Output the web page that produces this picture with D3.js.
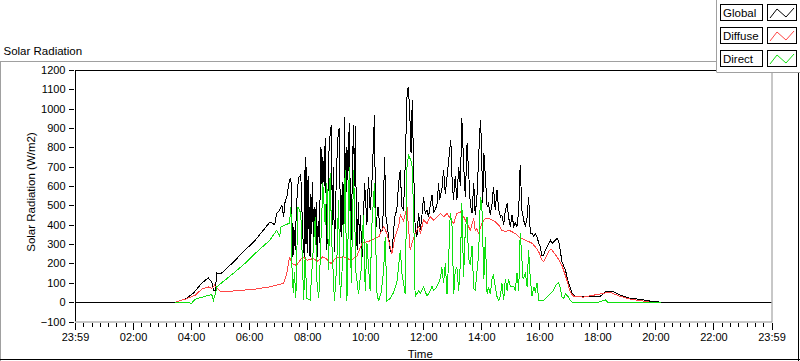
<!DOCTYPE html>
<html><head><meta charset="utf-8">
<script src="https://cdn.jsdelivr.net/npm/d3@7"></script>
<style>
html,body{margin:0;padding:0;background:#fff;}
svg{display:block;font-family:"Liberation Sans",Arial,sans-serif;}
</style></head>
<body><svg id="c" width="800" height="361"></svg>
<script>
// ---- data (time in hours since 23:59, values in W/m2) ----
const seriesNames = ["Global", "Diffuse", "Direct"];
const xTickLabels = ["23:59","02:00","04:00","06:00","08:00","10:00","12:00","14:00","16:00","18:00","20:00","22:00","23:59"];
const yTickValues = [-100,0,100,200,300,400,500,600,700,800,900,1000,1100,1200];

const globalHours = [0,3.40,3.45,3.79,4.07,4.37,4.59,4.71,4.77,4.83,4.89,5.00,5.17,5.52,5.86,6.18,6.49,6.72,6.88,6.95,7.03,7.13,7.19,7.24,7.30,7.39,7.44,7.47,7.51,7.54,7.59,7.63,7.70,7.78,7.85,7.90,7.93,7.96,7.99,8.02,8.05,8.08,8.10,8.13,8.16,8.19,8.22,8.25,8.28,8.31,8.34,8.38,8.42,8.47,8.50,8.52,8.54,8.57,8.59,8.62,8.68,8.74,8.78,8.83,8.87,8.90,8.94,8.98,9.02,9.06,9.10,9.13,9.17,9.21,9.25,9.29,9.31,9.33,9.37,9.40,9.45,9.48,9.52,9.56,9.60,9.63,9.66,9.69,9.72,9.77,9.80,9.83,9.86,9.89,9.98,10.06,10.11,10.17,10.23,10.32,10.36,10.44,10.52,10.60,10.67,10.71,10.78,10.86,10.92,10.98,11.03,11.09,11.15,11.21,11.26,11.32,11.38,11.44,11.48,11.53,11.58,11.62,11.67,11.72,11.78,11.84,11.90,11.95,12.01,12.07,12.13,12.18,12.30,12.36,12.47,12.53,12.56,12.64,12.70,12.76,12.82,12.91,12.95,12.99,13.04,13.10,13.16,13.22,13.28,13.33,13.39,13.45,13.51,13.56,13.62,13.68,13.74,13.79,13.85,13.91,13.97,14.00,14.05,14.09,14.14,14.20,14.25,14.31,14.37,14.42,14.48,14.54,14.60,14.66,14.71,14.77,14.83,14.89,14.94,15.00,15.06,15.12,15.17,15.23,15.29,15.34,15.40,15.46,15.52,15.58,15.63,15.69,15.75,15.81,15.86,15.92,15.98,16.03,16.09,16.15,16.21,16.32,16.38,16.44,16.49,16.55,16.61,16.67,16.72,16.78,16.90,17.01,17.13,17.24,17.53,18.10,18.28,18.45,18.62,18.79,19.14,19.48,19.83,20.17,24];
const globalValues = [0,0,0,15,45,98,126,105,62,60,150,145,165,217,269,315,372,415,400,460,470,502,441,520,545,631,641,450,234,390,270,500,641,660,338,234,752,300,700,252,650,300,234,560,350,620,252,493,300,520,234,420,304,804,760,500,752,640,600,848,269,752,850,916,400,700,260,500,718,850,900,600,338,620,270,959,700,500,800,630,924,600,321,700,916,600,910,500,270,520,300,450,350,234,614,400,648,476,614,968,372,493,365,372,752,450,372,270,252,372,450,476,614,683,493,476,718,1062,1114,1002,769,1045,683,390,338,460,372,440,545,460,476,440,554,460,500,614,530,580,683,560,650,786,838,650,530,650,530,700,600,950,718,545,821,683,510,460,614,450,545,752,941,840,510,770,648,493,510,450,510,597,476,580,476,440,450,400,476,510,440,390,450,390,410,390,476,709,476,424,390,440,545,355,355,338,355,338,304,286,243,243,269,304,320,304,312,320,330,312,269,208,165,97,45,31,28,30,53,57,50,36,19,15,5,0,0];

const diffuseHours = [3.45,3.79,4.14,4.37,4.59,4.71,4.81,4.89,5.00,5.40,6.18,6.72,7.19,7.30,7.39,7.47,7.63,7.85,8.01,8.22,8.34,8.54,8.66,8.74,8.83,9.00,9.25,9.52,9.72,9.89,10.23,10.47,10.64,10.75,10.92,11.03,11.15,11.21,11.32,11.44,11.49,11.55,11.64,11.72,11.84,11.90,12.01,12.13,12.24,12.36,12.47,12.59,12.70,12.82,12.93,13.05,13.16,13.28,13.39,13.51,13.62,13.74,13.79,13.85,13.91,14.02,14.14,14.25,14.37,14.48,14.60,14.71,14.83,14.94,15.06,15.17,15.29,15.40,15.52,15.63,15.75,15.86,15.98,16.09,16.15,16.21,16.32,16.38,16.44,16.61,16.78,16.95,17.07,17.18,17.53,18.28,18.45,18.79,19.14,19.83,20.20];
const diffuseValues = [0,15,36,67,79,72,88,72,57,57,67,79,98,150,234,200,190,234,217,226,210,234,226,210,200,230,234,217,240,304,320,338,390,355,252,338,390,450,420,493,390,269,320,355,390,355,424,407,441,424,441,458,441,458,433,407,458,467,441,407,372,433,372,380,355,407,433,433,424,415,398,372,364,372,364,355,338,330,320,313,304,287,260,217,210,226,260,272,269,234,190,114,50,30,26,48,50,30,15,0,0];

const directHours = [3.45,3.79,4.02,4.14,4.48,4.71,4.77,4.83,4.89,5.17,5.52,5.86,6.18,6.72,6.95,7.05,7.10,7.39,7.44,7.47,7.52,7.56,7.61,7.68,7.78,7.88,7.93,7.99,8.10,8.16,8.28,8.34,8.40,8.47,8.54,8.62,8.68,8.74,8.79,8.85,8.94,9.02,9.08,9.14,9.25,9.31,9.37,9.45,9.52,9.60,9.68,9.77,9.86,9.94,10.00,10.06,10.17,10.23,10.32,10.40,10.46,10.55,10.63,10.69,10.75,10.86,10.98,11.09,11.21,11.26,11.32,11.38,11.44,11.49,11.55,11.61,11.67,11.72,11.84,11.90,12.01,12.13,12.24,12.30,12.36,12.47,12.59,12.64,12.70,12.76,12.82,12.87,12.93,12.99,13.05,13.10,13.16,13.22,13.28,13.33,13.39,13.45,13.51,13.56,13.62,13.68,13.74,13.79,13.85,13.91,13.97,14.02,14.09,14.14,14.20,14.25,14.31,14.37,14.42,14.48,14.54,14.60,14.66,14.71,14.77,14.83,14.89,14.94,15.00,15.12,15.17,15.23,15.29,15.34,15.38,15.44,15.52,15.58,15.63,15.69,15.75,15.81,15.86,15.92,15.98,16.03,16.15,16.26,16.38,16.49,16.55,16.61,16.67,16.72,16.78,16.84,16.90,16.95,17.01,17.07,17.13,17.50,18.00,18.28,18.35,19.00,19.83,20.20];
const directValues = [0,-3,-5,15,30,40,10,40,80,114,157,201,248,321,372,340,390,408,493,200,46,155,20,493,460,10,234,20,10,155,440,100,20,300,614,400,614,165,665,304,5,200,528,20,270,683,5,700,100,683,155,40,170,450,60,304,60,400,614,50,5,50,155,338,5,20,50,100,270,155,100,40,700,760,740,718,460,27,60,45,80,30,60,81,60,80,122,180,100,200,40,200,460,400,40,160,180,60,200,510,130,380,441,230,190,290,70,62,155,252,545,500,120,338,40,80,40,120,140,80,30,10,30,100,10,120,60,120,80,80,60,150,60,355,270,120,150,80,270,120,30,80,50,100,10,10,10,25,45,60,84,93,100,75,27,20,45,35,27,9,0,0,-3,12,0,0,-3,-3];

const seriesColors = ["#000000", "#ff4646", "#10e010"];

// ---- layout ----
const svg = d3.select("#c");
const W = 800, H = 361;
const plot = {left: 75, right: 771.5, top: 70, bottom: 321.5};

const x = d3.scaleLinear().domain([0, 24]).range([plot.left, plot.right]);
const y = d3.scaleLinear().domain([-100, 1200]).range([plot.bottom, plot.top]);

// outer panel (3D frame)
svg.append("rect").attr("x",0).attr("y",0).attr("width",W).attr("height",H).attr("fill","#fff");
svg.append("line").attr("x1",0.5).attr("x2",0.5).attr("y1",61.5).attr("y2",H).attr("stroke","#a0a0a0");
svg.append("line").attr("x1",0).attr("x2",W).attr("y1",61.5).attr("y2",61.5).attr("stroke","#a0a0a0");
svg.append("line").attr("x1",0).attr("x2",W).attr("y1",359.5).attr("y2",359.5).attr("stroke","#000");
svg.append("line").attr("x1",798.5).attr("x2",798.5).attr("y1",61).attr("y2",H).attr("stroke","#000");

// title
svg.append("text").attr("x",3.5).attr("y",55).attr("font-size","11.5px").attr("fill","#000").text("Solar Radiation");

// plot background
svg.append("rect").attr("x",plot.left).attr("y",plot.top).attr("width",plot.right-plot.left).attr("height",plot.bottom-plot.top).attr("fill","#fff");

// clip
svg.append("defs").append("clipPath").attr("id","clip").append("rect")
  .attr("x",plot.left).attr("y",plot.top).attr("width",plot.right-plot.left).attr("height",plot.bottom-plot.top);

// series
const allSeries = [
  {hours: globalHours, values: globalValues},
  {hours: diffuseHours, values: diffuseValues},
  {hours: directHours, values: directValues}
];
const line = d3.line().x(d => x(d[0])).y(d => y(d[1]));
const gData = svg.append("g").attr("clip-path","url(#clip)");
allSeries.forEach((s, i) => {
  const pts = s.hours.map((h, k) => [h, s.values[k]]);
  gData.append("path").datum(pts).attr("d", line)
    .attr("fill","none").attr("stroke",seriesColors[i]).attr("stroke-width",1)
    .attr("stroke-linejoin","miter").attr("shape-rendering","crispEdges");
});

// frame lines
svg.append("line").attr("x1",plot.left).attr("x2",plot.right).attr("y1",plot.top+0.5).attr("y2",plot.top+0.5).attr("stroke","#000");
svg.append("line").attr("x1",plot.left+0.5).attr("x2",plot.left+0.5).attr("y1",plot.top).attr("y2",plot.bottom).attr("stroke","#000");
svg.append("line").attr("x1",plot.left).attr("x2",plot.right+0.5).attr("y1",plot.bottom+0.5).attr("y2",plot.bottom+0.5).attr("stroke","#909090");
svg.append("line").attr("x1",plot.right+0.5).attr("x2",plot.right+0.5).attr("y1",plot.top).attr("y2",plot.bottom+1).attr("stroke","#909090");

// y axis
const yAxis = d3.axisLeft(y).tickValues(yTickValues).tickSize(5).tickPadding(3).tickFormat(d3.format("d"));
const gy = svg.append("g").attr("transform","translate(73.5,0)").call(yAxis);
gy.select(".domain").remove();
gy.selectAll("text").attr("font-size","11px").attr("font-family","'Liberation Sans',Arial,sans-serif").attr("fill","#000");
gy.selectAll("line").attr("stroke","#000").attr("shape-rendering","crispEdges");

// x axis (major)
const majorVals = d3.range(0, 25, 2);
const xAxis = d3.axisBottom(x).tickValues(majorVals).tickSize(7).tickPadding(3)
  .tickFormat((d, i) => xTickLabels[i]);
const gx = svg.append("g").attr("transform","translate(0,323)").call(xAxis);
gx.select(".domain").remove();
gx.selectAll("text").attr("font-size","11px").attr("font-family","'Liberation Sans',Arial,sans-serif").attr("fill","#000");
gx.selectAll("line").attr("stroke","#000").attr("shape-rendering","crispEdges");

// x axis (minor)
const minorVals = [];
for (let h = 0; h < 24; h += 2) for (let k = 1; k < 7; k++) minorVals.push(h + k * 2 / 7);
const xMinor = d3.axisBottom(x).tickValues(minorVals).tickSize(4).tickFormat("");
const gxm = svg.append("g").attr("transform","translate(0,323)").call(xMinor);
gxm.select(".domain").remove();
gxm.selectAll("line").attr("stroke","#000").attr("shape-rendering","crispEdges");

// axis titles
svg.append("text").attr("x",(plot.left+plot.right)/2 - 3).attr("y",358).attr("text-anchor","middle")
  .attr("font-size","11.5px").attr("fill","#000").text("Time");
svg.append("text").attr("transform","translate(35,192) rotate(-90)").attr("text-anchor","middle")
  .attr("font-size","11.5px").attr("fill","#000").text("Solar Radiation (W/m2)");

// legend
const lg = svg.append("g");
lg.append("rect").attr("x",717).attr("y",0).attr("width",83).attr("height",72).attr("fill","#fff");
lg.append("line").attr("x1",716.5).attr("x2",716.5).attr("y1",0).attr("y2",72).attr("stroke","#a0a0a0");
lg.append("line").attr("x1",716.5).attr("x2",800).attr("y1",72.5).attr("y2",72.5).attr("stroke","#a0a0a0");
seriesNames.forEach((name, i) => {
  const top = 4 + i * 23;
  lg.append("rect").attr("x",720.5).attr("y",top+0.5).attr("width",42).attr("height",16)
    .attr("fill","#fff").attr("stroke","#000");
  lg.append("text").attr("x",723).attr("y",top+12.5).attr("font-size","11.5px").attr("fill","#000").text(name);
  lg.append("rect").attr("x",767.5).attr("y",top+0.5).attr("width",29).attr("height",16)
    .attr("fill","#fff").attr("stroke","#000");
  const zz = [[770,top+14],[777,top+5],[786,top+13],[794,top+4]];
  lg.append("path").attr("d", d3.line()(zz)).attr("fill","none").attr("stroke",seriesColors[i]).attr("stroke-width",1);
});
</script></body></html>
